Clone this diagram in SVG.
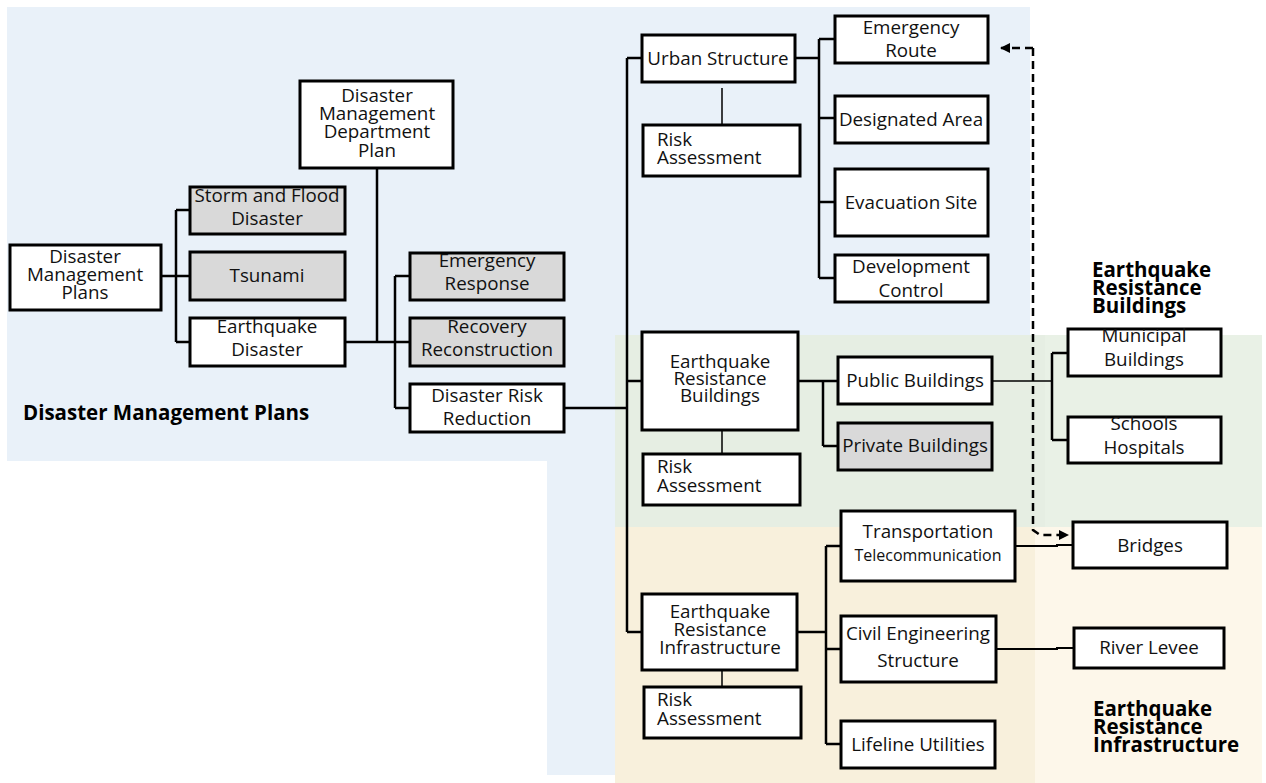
<svg xmlns="http://www.w3.org/2000/svg" width="1266" height="783" viewBox="0 0 1266 783">
<defs>
<style>
.box{fill:#ffffff;stroke:#000;stroke-width:3}
.gray{fill:#d9d9d9;stroke:#000;stroke-width:3}
.t{font-family:"Open Sans","Noto Sans","Liberation Sans",sans-serif;font-size:18.8px;fill:#111;text-anchor:middle}
.tl{font-family:"Open Sans","Noto Sans","Liberation Sans",sans-serif;font-size:18.8px;fill:#111;text-anchor:start}
.small{font-size:16px}
.lbl{font-family:"Open Sans","Noto Sans","Liberation Sans",sans-serif;font-size:20.5px;font-weight:bold;fill:#000}
.c{fill:none;stroke:#000;stroke-width:2.5}
.thin{fill:none;stroke:#000;stroke-width:1.5}
.dash{fill:none;stroke:#000;stroke-width:2.5;stroke-dasharray:8 5}
</style>
<marker id="arr" viewBox="0 0 10 10" refX="9" refY="5" markerWidth="10" markerHeight="10" markerUnits="userSpaceOnUse" orient="auto-start-reverse">
<path d="M0,0 L10,5 L0,10 z" fill="#000"/>
</marker>
</defs>

<g id="backgrounds">
<path d="M7,7 H1030 V335 H615 V775 H547 V461 H7 Z" fill="#e9f1f9"/>
<rect x="615" y="335" width="430" height="192" fill="#e6eee3"/>
<rect x="1045" y="335" width="217" height="192" fill="#e9f1e6"/>
<rect x="615" y="527" width="420" height="256" fill="#f8f0dc"/>
<rect x="1035" y="527" width="227" height="256" fill="#fdf7ea"/>
</g>

<g id="region-labels">
<text class="lbl" x="23" y="420">Disaster Management Plans</text>
<text class="lbl" x="1092" y="277">Earthquake</text>
<text class="lbl" x="1092" y="295">Resistance</text>
<text class="lbl" x="1092" y="313">Buildings</text>
<text class="lbl" x="1093" y="716">Earthquake</text>
<text class="lbl" x="1093" y="734">Resistance</text>
<text class="lbl" x="1093" y="752">Infrastructure</text>
</g>

<g id="connectors">
<path class="c" d="M161,276 H176 M176,210 V342 M176,210 H190 M176,276 H190 M176,342 H190"/>
<path class="c" d="M345,342 H395 M377,168 V342 M395,276 V408 M395,276 H410 M395,342 H410 M395,408 H410"/>
<path class="c" d="M564,408 H627 M627,58 V632 M627,58 H642 M627,381 H642 M627,632 H642"/>
<path class="c" d="M795,58 H819 M819,39 V278 M819,39 H835 M819,118 H835 M819,202 H835 M819,278 H835"/>
<path class="thin" d="M722,88 V125 M722,430 V454 M722,670 V687"/>
<path class="c" d="M798,381 H823 M823,381 V446 M823,381 H838 M823,446 H838"/>
<path class="thin" d="M992,381 H1052"/>
<path class="c" d="M1052,353 V440 M1052,353 H1068 M1052,440 H1068"/>
<path class="c" d="M797,632 H826 M826,546 V744 M826,546 H841 M826,649 H841 M826,744 H841"/>
<path class="thin" d="M1015,546 H1057 V545 H1073" style="stroke-width:2"/>
<path class="c" d="M996,649 H1057 V648 H1074" style="stroke-width:2"/>
<path class="dash" d="M1033,48 V530 L1040,535 H1068" marker-end="url(#arr)"/>
<path class="dash" d="M1033,48 H1001" marker-end="url(#arr)"/>
</g>

<g id="n-dmp"><rect class="box" x="10" y="245" width="151" height="65"/>
<text class="t" x="85" y="263">Disaster</text><text class="t" x="85" y="281">Management</text><text class="t" x="85" y="299">Plans</text></g>

<g id="n-storm"><rect class="gray" x="190" y="187" width="155" height="47"/>
<text class="t" x="267" y="202">Storm and Flood</text><text class="t" x="267" y="225">Disaster</text></g>

<g id="n-tsunami"><rect class="gray" x="190" y="252" width="155" height="48"/>
<text class="t" x="267" y="282">Tsunami</text></g>

<g id="n-eqd"><rect class="box" x="190" y="318" width="155" height="48"/>
<text class="t" x="267" y="333">Earthquake</text><text class="t" x="267" y="356">Disaster</text></g>

<g id="n-dmdp"><rect class="box" x="300" y="81" width="153" height="87"/>
<text class="t" x="377" y="102">Disaster</text><text class="t" x="377" y="120">Management</text><text class="t" x="377" y="138">Department</text><text class="t" x="377" y="157">Plan</text></g>

<g id="n-er"><rect class="gray" x="410" y="253" width="154" height="47"/>
<text class="t" x="487" y="267">Emergency</text><text class="t" x="487" y="290">Response</text></g>

<g id="n-rr"><rect class="gray" x="410" y="318" width="154" height="48"/>
<text class="t" x="487" y="333">Recovery</text><text class="t" x="487" y="356">Reconstruction</text></g>

<g id="n-drr"><rect class="box" x="410" y="384" width="154" height="48"/>
<text class="t" x="487" y="402">Disaster Risk</text><text class="t" x="487" y="425">Reduction</text></g>

<g id="n-urban"><rect class="box" x="642" y="35" width="153" height="47"/>
<text class="t" x="718" y="65">Urban Structure</text></g>

<g id="n-ra1"><rect class="box" x="643" y="125" width="157" height="51"/>
<text class="tl" x="657" y="146">Risk</text><text class="tl" x="657" y="164">Assessment</text></g>

<g id="n-route"><rect class="box" x="835" y="16" width="153" height="47"/>
<text class="t" x="911" y="34">Emergency</text><text class="t" x="911" y="57">Route</text></g>

<g id="n-area"><rect class="box" x="835" y="96" width="153" height="47"/>
<text class="t" x="911" y="126">Designated Area</text></g>

<g id="n-evac"><rect class="box" x="835" y="169" width="153" height="67"/>
<text class="t" x="911" y="209">Evacuation Site</text></g>

<g id="n-dev"><rect class="box" x="835" y="255" width="153" height="47"/>
<text class="t" x="911" y="273">Development</text><text class="t" x="911" y="297">Control</text></g>

<g id="n-erb"><rect class="box" x="642" y="332" width="156" height="98"/>
<text class="t" x="720" y="368">Earthquake</text><text class="t" x="720" y="385">Resistance</text><text class="t" x="720" y="402">Buildings</text></g>

<g id="n-ra2"><rect class="box" x="643" y="454" width="157" height="51"/>
<text class="tl" x="657" y="473">Risk</text><text class="tl" x="657" y="492">Assessment</text></g>

<g id="n-public"><rect class="box" x="838" y="357" width="154" height="47"/>
<text class="t" x="915" y="387">Public Buildings</text></g>

<g id="n-private"><rect class="gray" x="838" y="423" width="154" height="47"/>
<text class="t" x="915" y="452">Private Buildings</text></g>

<g id="n-municipal"><rect class="box" x="1068" y="329" width="153" height="47"/>
<text class="t" x="1144" y="342">Municipal</text><text class="t" x="1144" y="366">Buildings</text></g>

<g id="n-schools"><rect class="box" x="1068" y="417" width="153" height="46"/>
<text class="t" x="1144" y="430">Schools</text><text class="t" x="1144" y="454">Hospitals</text></g>

<g id="n-transport"><rect class="box" x="841" y="511" width="174" height="70"/>
<text class="t" x="928" y="538">Transportation</text><text class="t small" x="928" y="561">Telecommunication</text></g>

<g id="n-eri"><rect class="box" x="642" y="594" width="155" height="76"/>
<text class="t" x="720" y="618">Earthquake</text><text class="t" x="720" y="636">Resistance</text><text class="t" x="720" y="654">Infrastructure</text></g>

<g id="n-ra3"><rect class="box" x="644" y="687" width="157" height="51"/>
<text class="tl" x="657" y="706">Risk</text><text class="tl" x="657" y="725">Assessment</text></g>

<g id="n-civil"><rect class="box" x="841" y="616" width="155" height="66"/>
<text class="t" x="918" y="640">Civil Engineering</text><text class="t" x="918" y="667">Structure</text></g>

<g id="n-lifeline"><rect class="box" x="841" y="721" width="154" height="47"/>
<text class="t" x="918" y="751">Lifeline Utilities</text></g>

<g id="n-bridges"><rect class="box" x="1073" y="522" width="154" height="46"/>
<text class="t" x="1150" y="552">Bridges</text></g>

<g id="n-levee"><rect class="box" x="1074" y="628" width="150" height="40"/>
<text class="t" x="1149" y="654">River Levee</text></g>
</svg>
